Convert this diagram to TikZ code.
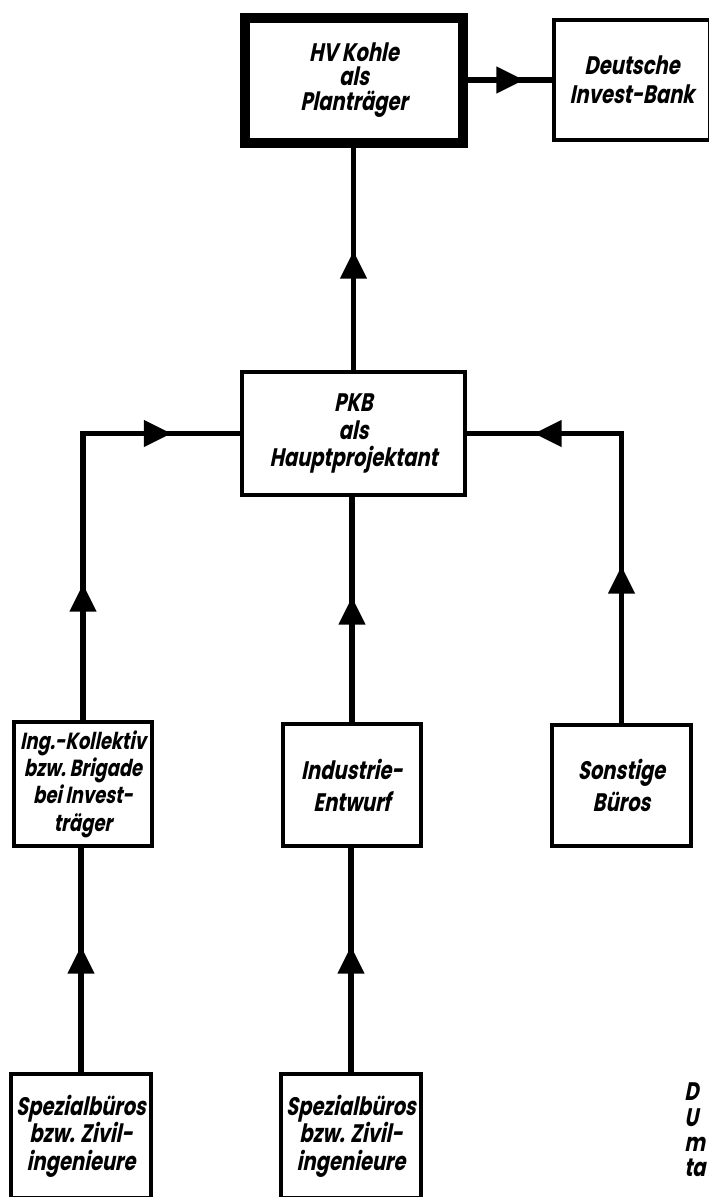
\documentclass[tikz,border=0pt]{standalone}
\usepackage{fontspec}
\setmainfont{Poppins}[FakeSlant=0.2, FakeStretch=0.77]
\usetikzlibrary{decorations.markings}
\tikzset{
  box/.style={draw, line width=3pt, inner sep=0pt, outer sep=0pt, align=center,
    font=\bfseries\fontsize{19}{20.5}\selectfont},
  twoline/.style={font=\bfseries\fontsize{19}{24}\selectfont},
  conn/.style={line width=4.2pt, line join=miter},
  arr/.style={postaction={decorate, decoration={markings,
    mark=at position #1 with {\fill (0.5pt,0pt) -- (-20pt,10.2pt) -- (-20pt,-10.2pt) -- cycle;}}}}
}
\begin{document}
\begin{tikzpicture}[x=0.75pt, y=-0.75pt]
\clip (0,0) rectangle (709,1197);
\fill[white] (0,0) rectangle (709,1197);

\node[box, line width=7.5pt, minimum width=163.5pt, minimum height=93.75pt, font=\bfseries\fontsize{19}{18.5}\selectfont]
  (hv) at (354,80) {HV Kohle\\als\\Planträger};
\node[box, font=\bfseries\fontsize{19}{22}\selectfont, minimum width=117pt, minimum height=90pt]
  (bank) at (632,80) {Deutsche\\Invest-Bank};
\node[box, minimum width=167.25pt, minimum height=92.25pt]
  (pkb) at (353.5,433.5) {PKB\\als\\Hauptprojektant};
\node[box, minimum width=103.5pt, minimum height=93pt, font=\bfseries\fontsize{17.5}{20.5}\selectfont]
  (ing) at (83,784) {Ing.-Kollektiv\\bzw.\,Brigade\\bei Invest-\\träger};
\node[box, twoline, minimum width=103.5pt, minimum height=91.5pt]
  (ind) at (352,785) {Industrie-\\Entwurf};
\node[box, twoline, minimum width=104.25pt, minimum height=90.75pt]
  (son) at (621.5,785.5) {Sonstige\\Büros};
\node[box, minimum width=105pt, minimum height=93pt]
  (spa) at (81,1136) {Spezialbüros\\bzw. Zivil-\\ingenieure};
\node[box, minimum width=105pt, minimum height=93pt]
  (spb) at (351,1136) {Spezialbüros\\bzw. Zivil-\\ingenieure};

\node[anchor=west, inner sep=0pt, align=left, font=\bfseries\fontsize{19}{19}\selectfont]
  (frag) at (684,1130) {D\\U\\m\\ta};

\draw[conn, arr=45pt] (hv.east) -- (bank.west |- hv.east);
\draw[conn, arr=90pt] (pkb.north) -- (pkb.north |- hv.south);
\draw[conn, arr=102.75pt, arr=282pt] (ing.north) -- (ing.north |- pkb.west) -- (pkb.west);
\draw[conn, arr=94.5pt] (ind.north) -- (ind.north |- pkb.south);
\draw[conn, arr=118.5pt, arr=283.5pt] (son.north) -- (son.north |- pkb.east) -- (pkb.east);
\draw[conn, arr=95.25pt] (spa.north) -- (spa.north |- ing.south);
\draw[conn, arr=95.25pt] (spb.north) -- (spb.north |- ind.south);
\end{tikzpicture}
\end{document}
